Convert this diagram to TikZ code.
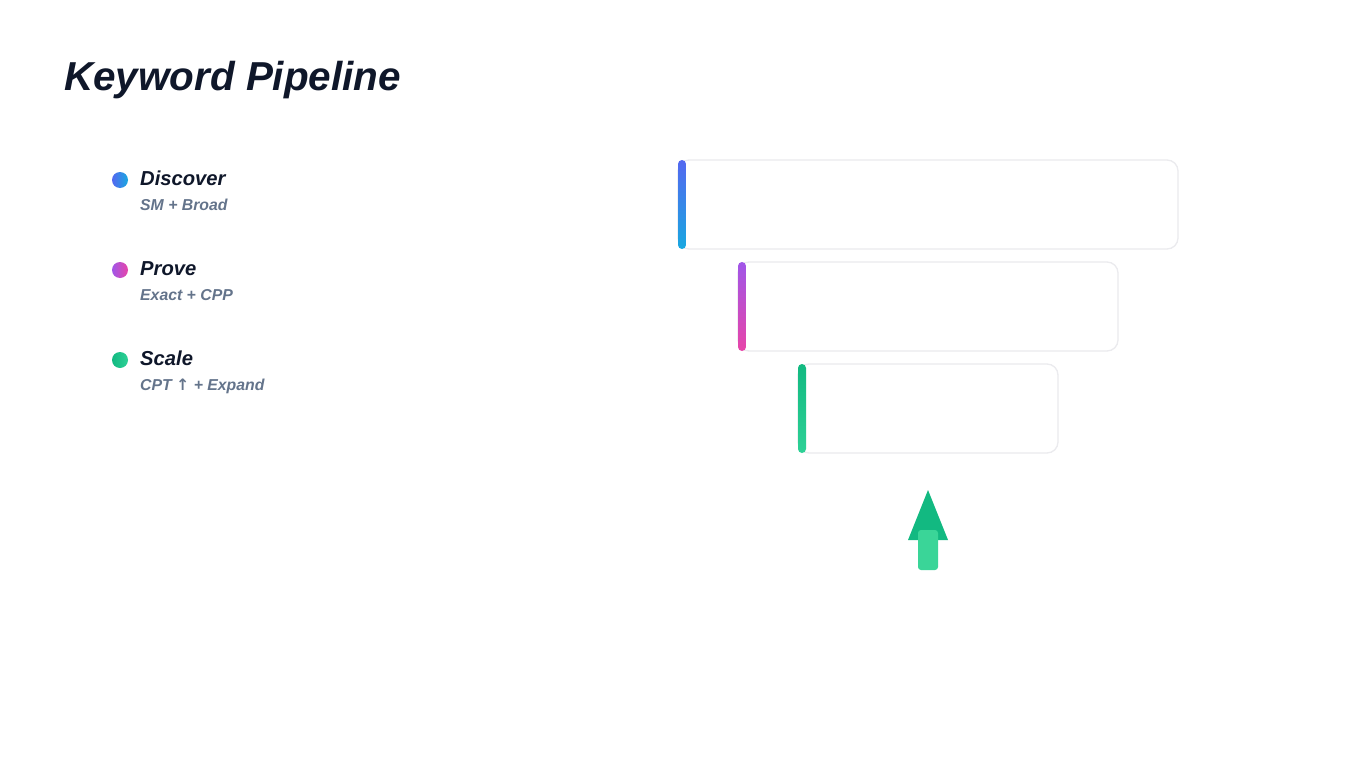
\documentclass[tikz,border=0pt]{standalone}
\usepackage{fontspec}
\setmainfont{Liberation Sans}
\newfontfamily\arrowfont{DejaVu Sans}
\usetikzlibrary{calc}
\definecolor{ink}{HTML}{0F172A}
\definecolor{slate}{HTML}{64748B}
\definecolor{boxline}{HTML}{EBEBEE}
\definecolor{discA}{HTML}{5468F0}
\definecolor{discB}{HTML}{18A8E0}
\definecolor{provA}{HTML}{A056E8}
\definecolor{provB}{HTML}{E845A8}
\definecolor{scalA}{HTML}{12B981}
\definecolor{scalB}{HTML}{2ED196}
\definecolor{tipgreen}{HTML}{12B981}
\definecolor{shaftgreen}{HTML}{3AD598}
\tikzset{
  stagetitle/.style={anchor=base west,inner sep=0pt,text=ink,font=\fontsize{20.2}{23}\selectfont\bfseries\itshape},
  stagesub/.style={anchor=base west,inner sep=0pt,text=slate,font=\fontsize{15.8}{18}\selectfont\bfseries\itshape},
  stagebox/.style={draw=boxline,fill=white,line width=1.3pt,rounded corners=11pt}
}
\begin{document}
\begin{tikzpicture}[x=1pt,y=-1pt]
\useasboundingbox[fill=white](0,0)rectangle(1365,768);
%title
\node[anchor=base west,inner sep=0pt,text=ink,font=\fontsize{40.4}{46}\selectfont\bfseries\itshape](title)at(64,90){Keyword Pipeline};
%legend
\foreach \lab/\sub/\ca/\cb [count=\i] in {Discover/SM + Broad/discA/discB,Prove/Exact + CPP/provA/provB,Scale/{CPT {\arrowfont ↑} + Expand}/scalA/scalB}{
\shade[left color=\ca,right color=\cb](120,90+90*\i)circle(8pt);
\node[stagetitle](lab\i)at(140,95.5+90*\i){\lab};
\node[stagesub](sub\i)at(140,120+90*\i){\sub};
}
%funnel bars
\foreach \ca/\cb [count=\i] in {discA/discB,provA/provB,scalA/scalB}{
\draw[stagebox](618+60*\i,58+102*\i)rectangle(1238-60*\i,147+102*\i);
\shade[top color=\ca,bottom color=\cb,rounded corners=4pt](618+60*\i,58+102*\i)rectangle(626+60*\i,147+102*\i);
}
%arrow
\fill[tipgreen](908,540)--(928,490)--(948,540)--cycle;
\fill[shaftgreen,rounded corners=3pt](918,530)rectangle(938,570);
\end{tikzpicture}
\end{document}
